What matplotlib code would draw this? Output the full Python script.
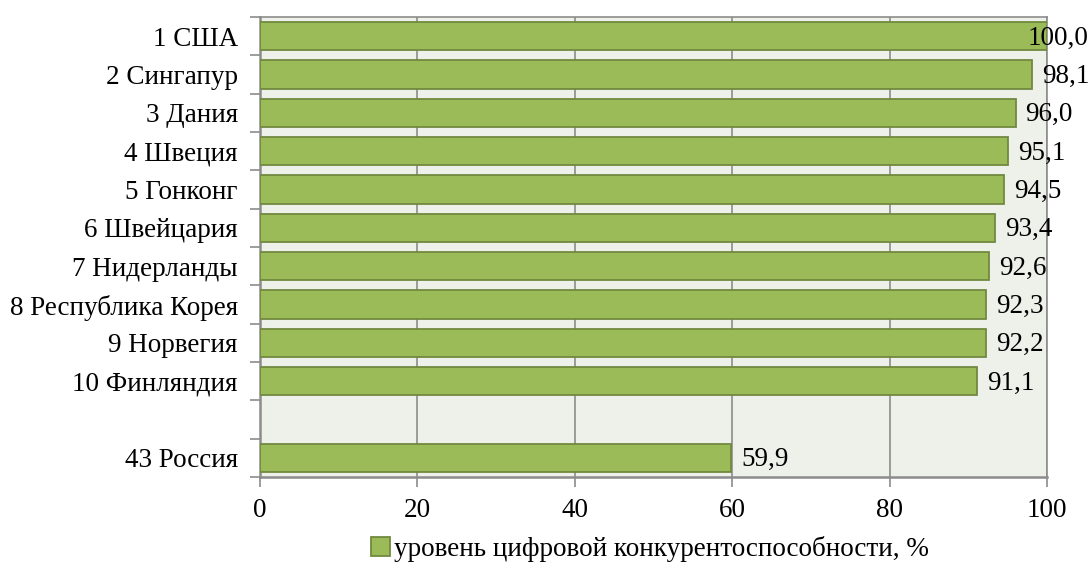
import matplotlib.pyplot as plt
import numpy as np

plt.rcParams['font.family'] = ['Liberation Serif', 'DejaVu Serif']

# рейтинг цифровой конкурентоспособности
countries = ["1 США", "2 Сингапур", "3 Дания", "4 Швеция", "5 Гонконг",
             "6 Швейцария", "7 Нидерланды", "8 Республика Корея", "9 Норвегия",
             "10 Финляндия", "", "43 Россия"]
values = [100.0, 98.1, 96.0, 95.1, 94.5, 93.4, 92.6, 92.3, 92.2, 91.1, None, 59.9]
xticks = [0, 20, 40, 60, 80, 100]
series_name = "уровень цифровой конкурентоспособности, %"
fs = 19.5

fig = plt.figure(figsize=(10.91, 5.66), dpi=100)
ax = fig.add_axes([0.2383, 0.1572, 0.7214, 0.8128])
ax.set_facecolor("#EEF1E9")

pos = np.arange(len(countries))
vals = [v if v is not None else 0 for v in values]
mask = [v is not None for v in values]
bars = ax.barh(pos[mask], np.array(vals)[mask], height=0.74, color="#9BBB59",
               edgecolor="#71893F", linewidth=1.3, zorder=3, label=series_name)

for p, v in zip(pos, values):
    if v is None:
        continue
    txt = f"{v:.1f}".replace(".", ",")
    if v >= 99.5:
        ax.annotate(txt, (v, p), xytext=(41, -2), textcoords="offset pixels",
                    ha="right", va="center", fontsize=fs, zorder=4,
                    annotation_clip=False)
    else:
        ax.annotate(txt, (v, p), xytext=(10, -2), textcoords="offset pixels",
                    ha="left", va="center", fontsize=fs, zorder=4,
                    annotation_clip=False)

ax.set_xlim(0, 100)
ax.set_ylim(len(countries) - 0.5, -0.5)
ax.set_xticks(xticks)
ax.set_xticklabels([str(t) for t in xticks], fontsize=fs)
ax.xaxis.grid(True, color="#8C8C8C", linewidth=1.2, zorder=1)

# подписи категорий без отметок, отметки на границах категорий
ax.set_yticks(pos)
ax.set_yticklabels(countries, fontsize=fs)
ax.tick_params(axis="y", length=0, pad=16)
ax.set_yticks(np.arange(-0.5, len(countries)), minor=True)
ax.tick_params(axis="y", which="minor", length=7, width=1.2, color="#8C8C8C")
ax.tick_params(axis="x", length=7, width=1.2, color="#8C8C8C", pad=8)

for side in ["top", "right", "bottom", "left"]:
    ax.spines[side].set_color("#8C8C8C")
    ax.spines[side].set_linewidth(1.2)
ax.spines["left"].set_linewidth(1.8)
ax.spines["bottom"].set_linewidth(1.8)

fig.legend(handles=[bars], labels=[series_name], loc="center",
           bbox_to_anchor=(0.596, 0.03), frameon=False, fontsize=fs,
           handlelength=0.7, handleheight=0.7, handletextpad=0.15)

fig.savefig("out.png", dpi=100)
